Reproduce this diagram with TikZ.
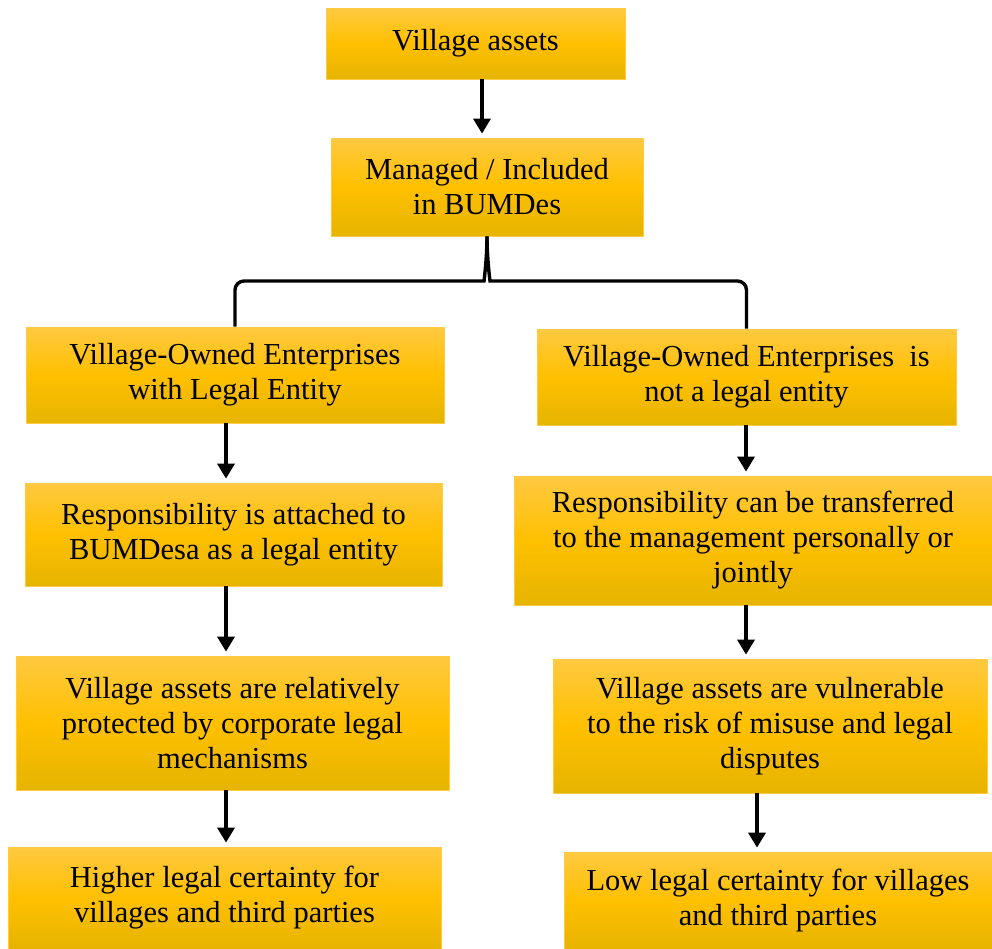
\documentclass[tikz,border=0pt]{standalone}
\usepackage{fontspec}
\setmainfont{Liberation Serif}
\usetikzlibrary{arrows.meta,calc}

\definecolor{boxtop}{HTML}{FFC941}
\definecolor{boxmid}{HTML}{FFC000}
\definecolor{boxbot}{HTML}{E6B400}
\definecolor{boxline}{HTML}{FFCB45}

\tikzset{
  box/.style={draw=boxline, line width=0.8pt, top color=boxtop, bottom color=boxbot,
    middle color=boxmid, align=center, inner sep=0pt,
    font=\fontsize{30.5}{35}\selectfont},
  arr/.style={line width=3.4pt, -{Triangle[length=15pt,width=17pt]}, shorten >=4pt},
  fork/.style={line width=3.4pt, rounded corners=9pt}
}

\begin{document}
\begin{tikzpicture}[x=1pt, y=-1pt]
          \useasboundingbox (0,0) rectangle (992,948);
          % top of the chart
          \node[box, minimum width=299, minimum height=71] (assets) at (475.5,43.5) {Village assets};
          \node[box, minimum width=312, minimum height=98] (mng) at (487,187) {Managed / Included\\in BUMDes};
          % left branch
          \node[box, minimum width=418, minimum height=96] (la) at (235,375) {Village-Owned Enterprises\\with Legal Entity};
          \node[box, minimum width=417, minimum height=103] (lb) at (233.5,534.5) {Responsibility is attached to\\BUMDesa as a legal entity};
          \node[box, minimum width=433, minimum height=134] (lc) at (232.5,723) {Village assets are relatively\\protected by corporate legal\\mechanisms};
          \node[box, minimum width=433, minimum height=102] (ld) at (224.5,898) {Higher legal certainty for\\villages and third parties};
          % right branch
          \node[box, minimum width=419, minimum height=96] (ra) at (746.5,377) {Village-Owned Enterprises~~is\\not a legal entity};
          \node[box, minimum width=478, minimum height=129] (rb) at (753,540.5) {Responsibility can be transferred\\to the management personally or\\jointly};
          \node[box, minimum width=434, minimum height=134] (rc) at (770,726) {Village assets are vulnerable\\to the risk of misuse and legal\\disputes};
          \node[box, minimum width=428, minimum height=97] (rd) at (778,900.5) {Low legal certainty for villages\\and third parties};

          \coordinate (ax1) at (482,0);
          \coordinate (axl) at (226,0);
          \coordinate (axr) at (746,0);
          \coordinate (axr2) at (757,0);
          \coordinate (split) at (487,281);

          \draw[arr] (assets.south -| ax1) -- (mng.north -| ax1);
          % the fork
          \draw[fork] (la.north) -- (la.north |- split) -- ([xshift=-12pt]split)
            [sharp corners] .. controls ([xshift=-3pt]split) and (mng.south |- 0,258) .. (mng.south);
          \draw[fork] (ra.north) -- (ra.north |- split) -- ([xshift=12pt]split)
            [sharp corners] .. controls ([xshift=3pt]split) and (mng.south |- 0,258) .. (mng.south);

          \draw[arr] (la.south -| axl) -- (lb.north -| axl);
          \draw[arr] (lb.south -| axl) -- (lc.north -| axl);
          \draw[arr] (lc.south -| axl) -- (ld.north -| axl);
          \draw[arr] (ra.south -| axr) -- (rb.north -| axr);
          \draw[arr] (rb.south -| axr) -- (rc.north -| axr);
          \draw[arr] (rc.south -| axr2) -- (rd.north -| axr2);
        \end{tikzpicture}
\end{document}
